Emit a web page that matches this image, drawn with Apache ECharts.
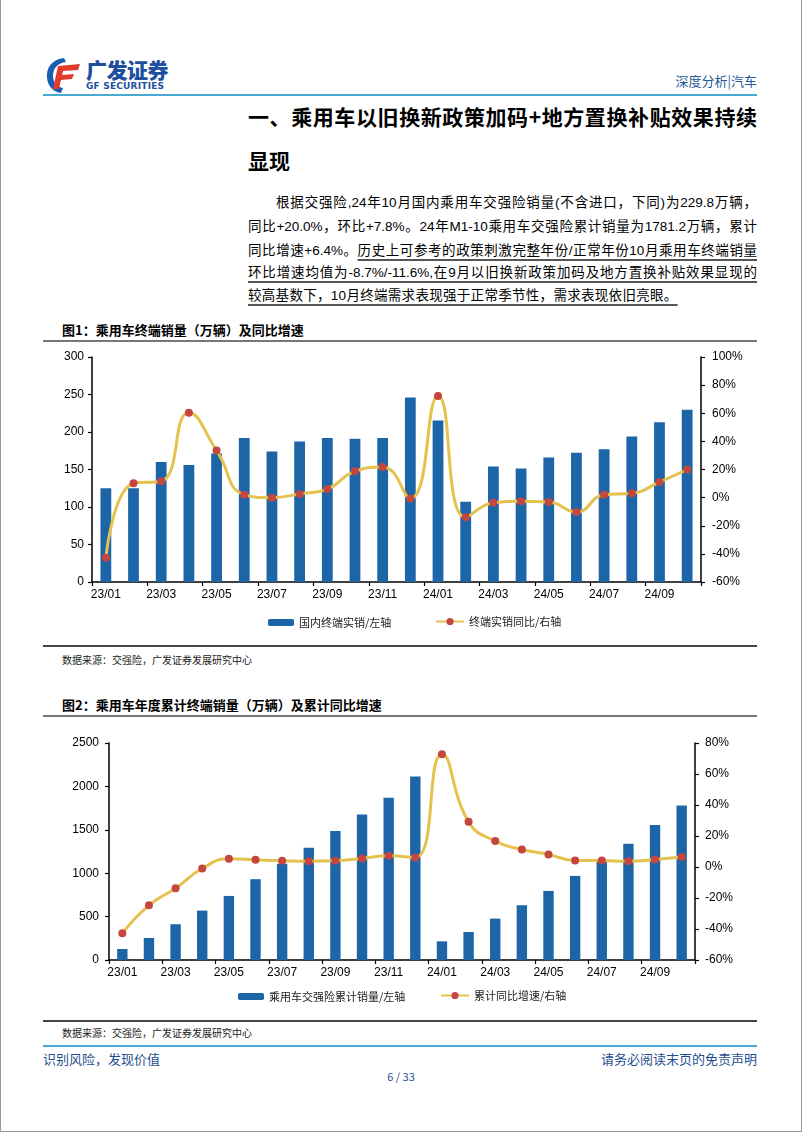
<!DOCTYPE html>
<html><head><meta charset="utf-8">
<script src="https://cdn.jsdelivr.net/npm/echarts@6/dist/echarts.min.js"></script>
<style>
body{margin:0;background:#fff;}
#page{position:relative;width:802px;height:1133px;overflow:hidden;background:#fff;font-family:"Liberation Sans",Arial,"Noto Sans CJK SC",sans-serif;color:#000;}
.abs{position:absolute;white-space:nowrap;}
.hl{position:absolute;}
.jl{position:absolute;left:248px;width:509px;font-size:13.5px;text-align:justify;text-align-last:justify;white-space:nowrap;line-height:18px;}
.u{text-decoration:underline;text-decoration-color:#555;text-underline-offset:4px;text-decoration-thickness:1.5px;}
.ft{font-family:"Noto Sans CJK SC",sans-serif;font-weight:bold;font-size:13px;}
.src{font-family:"Noto Sans CJK SC",sans-serif;font-size:10px;color:#222;}
</style></head>
<body><div id="page">
<div class="hl" style="left:0;top:0;width:800px;height:1131px;border-left:1px solid #999;border-right:1px solid #999;border-bottom:1px solid #999;"></div>
<svg class="abs" style="left:44px;top:56px" width="40" height="38" viewBox="0 0 40 38">
  <path d="M20 2 C8 3 2 12 3 22 C4 31 10 36 17 37 L19 32 C13 31 9 26 9 20 C9 12 14 7 22 6 Z" fill="#1a5db3"/>
  <path d="M14 10 L36 8 L34 14 L19 15 L18 19 L30 18 L28 23 L17 24 L15 33 L9 33 Z" fill="#e23b2e"/>
</svg>
<div class="abs" style="left:86px;top:57px;font-family:'Noto Sans CJK SC';font-weight:900;font-size:21px;color:#1d4f9e;letter-spacing:-0.5px;line-height:24px;">广发证券</div>
<div class="abs" style="left:86px;top:81px;font-family:'DejaVu Sans';font-weight:bold;font-size:9px;color:#1d4f9e;line-height:11px;letter-spacing:0.2px;">GF SECURITIES</div>
<div class="abs" style="right:45px;top:72px;font-family:'Noto Sans CJK SC';font-size:13px;color:#1f5a9a;line-height:18px;">深度分析|汽车</div>
<div class="hl" style="left:43px;top:94px;width:714px;height:2px;background:#4aa9d2;"></div>
<div class="abs" style="left:248px;top:103px;width:509px;font-family:'Noto Sans CJK SC';font-weight:bold;font-size:21px;line-height:26px;text-align:justify;text-align-last:justify;">一、乘用车以旧换新政策加码+地方置换补贴效果持续</div>
<div class="abs" style="left:248px;top:147px;font-family:'Noto Sans CJK SC';font-weight:bold;font-size:21px;line-height:26px;">显现</div>
<div class="jl" style="top:194px;left:276px;width:481px;">根据交强险,24年10月国内乘用车交强险销量(不含进口，下同)为229.8万辆，</div>
<div class="jl" style="top:218px;">同比+20.0%，环比+7.8%。24年M1-10乘用车交强险累计销量为1781.2万辆，累计</div>
<div class="jl" style="top:242px;">同比增速+6.4%。<span class="u">历史上可参考的政策刺激完整年份/正常年份10月乘用车终端销量</span></div>
<div class="jl" style="top:264px;"><span class="u">环比增速均值为-8.7%/-11.6%,在9月以旧换新政策加码及地方置换补贴效果显现的</span></div>
<div class="abs" style="left:248px;top:287px;font-size:13.5px;line-height:18px;letter-spacing:0.3px;"><span class="u">较高基数下，10月终端需求表现强于正常季节性，需求表现依旧亮眼。</span></div>
<div class="abs ft" style="left:62px;top:321px;line-height:18px;">图1：乘用车终端销量（万辆）及同比增速</div>
<div class="hl" style="left:43px;top:340px;width:714px;height:2px;background:#777;"></div>
<div id="c1" class="abs" style="left:0;top:342px;width:802px;height:298px;"></div>
<div class="hl" style="left:43px;top:645px;width:714px;height:1.5px;background:#444;"></div>
<div class="abs src" style="left:62px;top:653px;line-height:14px;">数据来源：交强险，广发证券发展研究中心</div>
<div class="abs ft" style="left:62px;top:696px;line-height:18px;">图2：乘用车年度累计终端销量（万辆）及累计同比增速</div>
<div class="hl" style="left:43px;top:715px;width:714px;height:2px;background:#777;"></div>
<div id="c2" class="abs" style="left:0;top:717px;width:802px;height:300px;"></div>
<div class="hl" style="left:43px;top:1020px;width:714px;height:1.5px;background:#444;"></div>
<div class="abs src" style="left:62px;top:1026px;line-height:14px;">数据来源：交强险，广发证券发展研究中心</div>
<div class="hl" style="left:43px;top:1045px;width:714px;height:2px;background:#4aa9d2;"></div>
<div class="abs" style="left:43px;top:1050px;font-family:'Noto Sans CJK SC';font-size:13px;color:#1f4e8f;line-height:17px;">识别风险，发现价值</div>
<div class="abs" style="right:45px;top:1050px;font-family:'Noto Sans CJK SC';font-size:13px;color:#1f4e8f;line-height:17px;">请务必阅读末页的免责声明</div>
<div class="abs" style="left:0;width:802px;text-align:center;top:1069px;font-family:'Noto Sans CJK SC';font-size:11px;color:#1f4e8f;line-height:14px;">6 / 33</div>
</div>
<script>
const categories = ['23/01','23/02','23/03','23/04','23/05','23/06','23/07','23/08','23/09','23/10','23/11','23/12','24/01','24/02','24/03','24/04','24/05','24/06','24/07','24/08','24/09','24/10'];
const monthlySales = [125,125,160,156,171.5,192,174,187.5,192,191,192,246,215.5,107,154,151.5,166,172.5,177,194,213,229.8];
const monthlyYoY = [-42.7,10.2,11.6,60.4,33.6,2.1,0,2.6,6.1,18.7,21.8,-0.6,72.3,-14,-3.6,-2.6,-3.1,-10.2,2.1,3.1,11.1,20.0];
const cumSales = [127,254,412,569,738,931,1108,1292,1485,1677,1869,2115,215,323,477,631,796,969,1144,1338,1554,1781.2];
const cumYoY = [-42.8,-24.7,-13.7,-1,5.3,4.6,4,3.7,4,5.5,7.2,6.1,72.7,29.2,16.7,11.3,8.1,4.2,4.2,3.7,4.8,6.4];
const leftTicks1 = [0,300,50], rightTicks1 = [-60,100,20];
const leftTicks2 = [0,2500,500], rightTicks2 = [-60,80,20];
const names1 = ['国内终端实销/左轴','终端实销同比/右轴'];
const names2 = ['乘用车交强险累计销量/左轴','累计同比增速/右轴'];

const BAR = '#1c66a8', LINE = '#e5c24e', DOT = '#c4463f';
const axisFont = {fontFamily:'Liberation Sans, Arial', fontSize:12, color:'#000'};
function yAxis(t, pos, fmt, margin){
  return {type:'value', position:pos, min:t[0], max:t[1], interval:t[2],
    axisLine:{show:true, lineStyle:{color:'#000', width:1.5}},
    axisTick:{show:true, length:4, lineStyle:{color:'#000', width:1.2}},
    splitLine:{show:false},
    axisLabel:Object.assign({margin:margin, formatter:fmt}, axisFont)};
}
function build(el, g, bars, line, lt, rt, names, lg, lm, rm){
  const ch = echarts.init(document.getElementById(el), null, {renderer:'canvas'});
  const legendText = {fontFamily:'Noto Sans CJK SC', fontSize:11, color:'#222'};
  ch.setOption({
    animation:false,
    grid:g,
    legend:[
      {data:[names[0]], left:lg[0], top:lg[2], itemWidth:26, itemHeight:7, itemGap:0, textStyle:legendText, padding:0},
      {data:[names[1]], left:lg[1], top:lg[2]-1, itemWidth:28, itemHeight:9, itemGap:0, textStyle:legendText, padding:0}
    ],
    xAxis:{type:'category', data:categories, boundaryGap:true,
      axisLine:{show:true, lineStyle:{color:'#000', width:1.5}},
      axisTick:{show:true, interval:1, length:4, lineStyle:{color:'#000', width:1.2}},
      axisLabel:Object.assign({interval:1, margin:7}, axisFont)},
    yAxis:[yAxis(lt,'left',function(v){return String(v);},lm), yAxis(rt,'right',function(v){return v + '%';},rm)],
    series:[
      {name:names[0], type:'bar', data:bars, yAxisIndex:0, barWidth:'39%', itemStyle:{color:BAR}},
      {name:names[1], type:'line', data:line, yAxisIndex:1, smooth:0.5, symbol:'circle', symbolSize:8,
        lineStyle:{color:LINE, width:3}, itemStyle:{color:DOT}, z:5}
    ]
  });
}
build('c1', {left:92, top:15, width:609, height:225}, monthlySales, monthlyYoY, leftTicks1, rightTicks1, names1, [268,435,275], 8, 11);
build('c2', {left:109, top:26, width:586, height:217}, cumSales, cumYoY, leftTicks2, rightTicks2, names2, [238,440,274], 10, 10);
</script>
</body></html>
